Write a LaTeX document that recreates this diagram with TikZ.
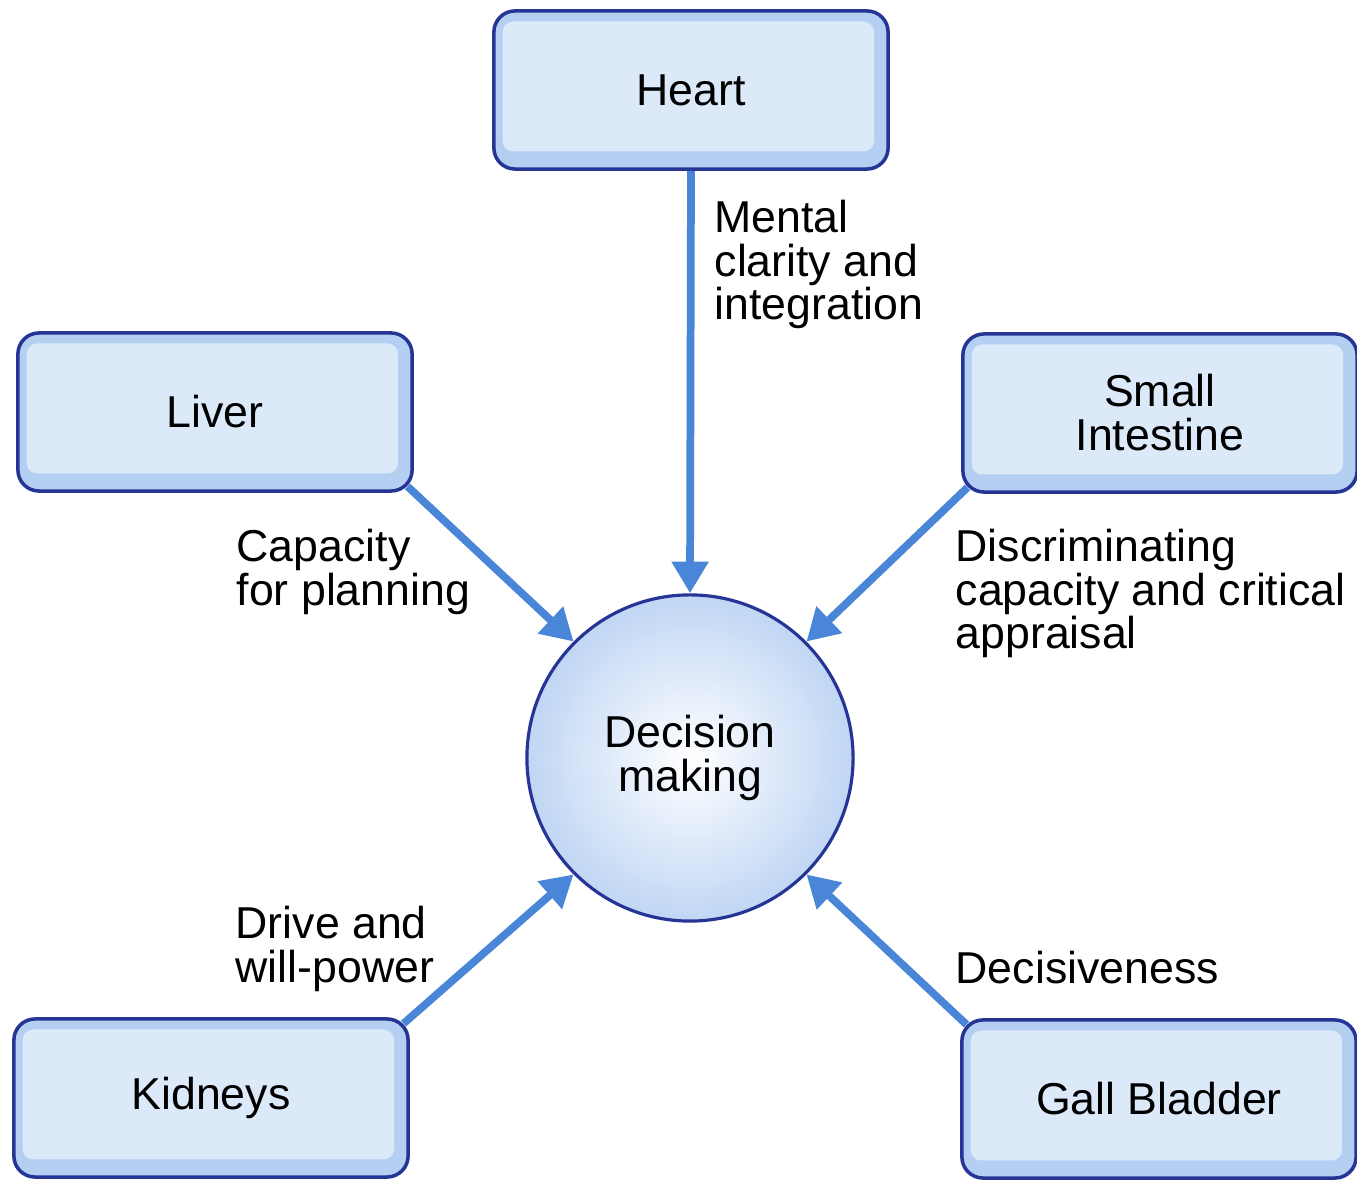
\documentclass[tikz,border=0pt]{standalone}
\usepackage{fontspec}
\setmainfont{Liberation Sans}
\usetikzlibrary{arrows.meta}

\definecolor{dkblue}{RGB}{38,52,150}
\definecolor{boxedge}{RGB}{180,207,242}
\definecolor{boxfill}{RGB}{220,233,249}
\definecolor{arrowblue}{RGB}{74,134,216}
\definecolor{ballblue}{RGB}{192,214,244}
\newcommand\orgfont{\fontsize{12.7}{12.5}\selectfont}

\begin{document}
\begin{tikzpicture}[x=0.01cm,y=-0.01cm,
		organ/.style={draw=dkblue,line width=1pt,rounded corners=6pt,fill=boxedge,
			minimum width=3.94cm,minimum height=1.58cm,align=center,font=\orgfont,
			path picture={\fill[boxfill,rounded corners=3pt]
				([shift={(2.5pt,-3pt)}]path picture bounding box.north west) rectangle
				([shift={(-4pt,5pt)}]path picture bounding box.south east);}},
		ball/.style={circle,draw=dkblue,line width=0.9pt,minimum size=3.26cm,
			inner color=white,outer color=ballblue,align=center,font=\orgfont},
		flow/.style={draw=arrowblue,line width=2.2pt,-{Triangle[width=10pt,length=9pt]}},
		note/.style={anchor=north west,inner sep=0pt,align=left,font=\orgfont}]
		\useasboundingbox (0,0) rectangle (1357,1180);
		% organs
		\node[organ] (heart) at (691,90) {Heart};
		\node[organ] (liver) at (215,412) {Liver};
		\node[organ] (smallint) at (1160,413) {Small\\Intestine};
		\node[organ] (kidneys) at (211,1098) {Kidneys};
		\node[organ] (gall) at (1159,1099) {Gall Bladder};
		\node[ball] (dm) at (690,758) {Decision\\making};
		% connections
		\draw[flow] (heart.south) -- (dm.north);
		\draw[flow] ([shift={(-1.8pt,1.8pt)}]liver.south east) -- (dm.135);
		\draw[flow] ([shift={(1.8pt,1.8pt)}]smallint.south west) -- (dm.45);
		\draw[flow] ([shift={(-1.8pt,-1.8pt)}]kidneys.north east) -- (dm.225);
		\draw[flow] ([shift={(1.8pt,-1.8pt)}]gall.north west) -- (dm.315);
		% labels
		\node[note] (mental) at (714,199) {Mental\\clarity and\\integration};
		\node[note] (plan) at (236,528) {Capacity\\for planning};
		\node[note] (discr) at (955,528) {Discriminating\\capacity and critical\\appraisal};
		\node[note] (drive) at (235,905) {Drive and\\will-power};
		\node[note] (decis) at (955,950) {Decisiveness};
	\end{tikzpicture}
\end{document}
